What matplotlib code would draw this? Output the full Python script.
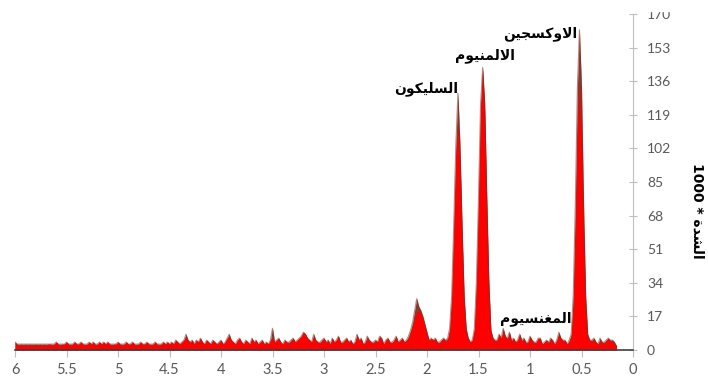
import numpy as np
import matplotlib
matplotlib.use('Agg')
import matplotlib.pyplot as plt
from matplotlib.patches import Rectangle

# energy channels (keV), 0.02 keV wide
energy = np.round(np.arange(0.16, 6.001, 0.02), 2)

# smoothed counts (x1000), drawn as the red area
counts = [
    2, 3, 5, 4, 6, 5, 3, 4, 5, 3,
    4, 6, 4, 5, 7, 23, 62, 111, 135, 111,
    62, 23, 7, 4, 3, 5, 4, 6, 8, 5,
    3, 4, 6, 3, 5, 4, 3, 5, 6, 4,
    3, 5, 7, 4, 3, 6, 4, 8, 5, 4,
    6, 4, 9, 5, 7, 10, 6, 8, 5, 4,
    6, 10, 33, 74, 121, 142, 121, 74, 33, 10,
    5, 4, 6, 10, 26, 60, 98, 115, 98, 60,
    26, 10, 5, 4, 6, 5, 3, 4, 6, 5,
    6, 5, 8, 12, 16, 19, 20, 19, 16, 12,
    9, 6, 5, 4, 6, 5, 4, 7, 5, 3,
    4, 6, 5, 3, 5, 7, 4, 5, 3, 4,
    5, 6, 4, 3, 6, 5, 7, 4, 3, 5,
    4, 6, 5, 3, 4, 7, 5, 4, 6, 3,
    5, 4, 6, 5, 3, 4, 5, 7, 4, 5,
    6, 8, 9, 7, 6, 5, 4, 6, 5, 3,
    4, 5, 3, 4, 6, 5, 4, 6, 5, 3,
    4, 3, 5, 4, 3, 5, 4, 6, 3, 4,
    5, 3, 4, 6, 5, 3, 4, 5, 7, 6,
    4, 3, 5, 4, 3, 4, 5, 3, 4, 5,
    3, 4, 6, 4, 5, 3, 5, 4, 5, 7,
    5, 4, 3, 4, 5, 3, 4, 3, 4, 3,
    4, 3, 2, 3, 4, 3, 2, 3, 4, 3,
    3, 4, 3, 2, 3, 4, 3, 3, 4, 3,
    2, 3, 4, 3, 3, 2, 3, 4, 3, 4,
    3, 4, 3, 2, 4, 3, 4, 3, 2, 3,
    4, 3, 3, 4, 3, 2, 3, 4, 3, 3,
    2, 3, 4, 3, 2, 3, 3, 2, 3, 2,
    3, 2, 3, 2, 2, 3, 2, 3, 2, 3,
    2, 3, 4,
]

# raw counts (x1000), dark trace
raw = [
    2, 4, 5, 5, 6, 5, 4, 4, 6, 3,
    4, 6, 5, 5, 8, 28, 74, 133, 162, 133,
    74, 28, 8, 5, 3, 5, 5, 6, 9, 5,
    3, 5, 6, 4, 5, 4, 3, 6, 6, 4,
    4, 5, 7, 4, 4, 6, 5, 8, 5, 4,
    6, 5, 9, 6, 7, 11, 6, 8, 5, 5,
    6, 10, 35, 78, 125, 143, 124, 77, 35, 11,
    5, 4, 6, 11, 28, 64, 104, 130, 104, 64,
    28, 11, 6, 5, 6, 5, 4, 4, 6, 5,
    6, 5, 9, 13, 17, 20, 22, 26, 20, 14,
    10, 7, 5, 4, 6, 5, 4, 7, 5, 4,
    4, 6, 5, 3, 6, 7, 4, 5, 4, 4,
    5, 7, 4, 3, 6, 5, 8, 4, 3, 5,
    4, 6, 5, 4, 4, 7, 5, 4, 6, 3,
    5, 4, 6, 5, 4, 4, 5, 8, 4, 5,
    6, 8, 9, 7, 6, 5, 4, 6, 5, 4,
    4, 5, 3, 4, 6, 5, 4, 11, 5, 3,
    4, 3, 5, 4, 3, 5, 4, 6, 3, 4,
    5, 3, 4, 6, 5, 3, 4, 5, 8, 6,
    4, 3, 5, 4, 3, 4, 5, 3, 4, 5,
    3, 4, 6, 4, 5, 3, 5, 4, 5, 8,
    5, 4, 3, 4, 5, 3, 4, 3, 4, 3,
    4, 3, 3, 3, 4, 3, 3, 3, 4, 3,
    3, 4, 3, 3, 3, 4, 3, 3, 4, 3,
    3, 3, 4, 3, 3, 3, 3, 4, 3, 4,
    3, 4, 3, 3, 4, 3, 4, 3, 3, 3,
    4, 3, 3, 4, 3, 3, 3, 4, 3, 3,
    3, 3, 4, 3, 3, 3, 3, 3, 3, 3,
    3, 3, 3, 3, 3, 3, 3, 3, 3, 3,
    3, 3, 4,
]

peak_names = ['السليكون', 'الالمنيوم', 'الاوكسجين', 'المغنسيوم']
peak_label_x = [2.01, 1.44, 0.90, 0.94]
peak_label_y = [132, 149, 160, 16]

x_ticks = [6, 5.5, 5, 4.5, 4, 3.5, 3, 2.5, 2, 1.5, 1, 0.5, 0]
y_ticks = list(range(0, 171, 17))
y_title = 'الشدة'

# Arabic glyph forms: isolated, final, initial, medial
FORMS = {
    'ا': ('\ufe8d', '\ufe8e', None, None),
    'لا': ('\ufefb', '\ufefc', None, None),
    'ل': ('\ufedd', '\ufede', '\ufedf', '\ufee0'),
    'س': ('\ufeb1', '\ufeb2', '\ufeb3', '\ufeb4'),
    'ي': ('\ufef1', '\ufef2', '\ufef3', '\ufef4'),
    'ك': ('\ufed9', '\ufeda', '\ufedb', '\ufedc'),
    'و': ('\ufeed', '\ufeee', None, None),
    'ن': ('\ufee5', '\ufee6', '\ufee7', '\ufee8'),
    'م': ('\ufee1', '\ufee2', '\ufee3', '\ufee4'),
    'غ': ('\ufecd', '\ufece', '\ufecf', '\ufed0'),
    'ج': ('\ufe9d', '\ufe9e', '\ufe9f', '\ufea0'),
    'ش': ('\ufeb5', '\ufeb6', '\ufeb7', '\ufeb8'),
    'د': ('\ufea9', '\ufeaa', None, None),
    'ة': ('\ufe93', '\ufe94', None, None),
}


def shape(word):
    # join letters and return them in visual (left to right) order
    chars = []
    i = 0
    while i < len(word):
        if word[i] == 'ل' and i + 1 < len(word) and word[i + 1] == 'ا':
            chars.append('لا')
            i += 2
        else:
            chars.append(word[i])
            i += 1
    out = []
    for k, c in enumerate(chars):
        f = FORMS[c]
        prev = chars[k - 1] if k > 0 else None
        nxt = chars[k + 1] if k + 1 < len(chars) else None
        join_prev = prev is not None and FORMS[prev][2] is not None
        join_next = nxt is not None and f[2] is not None
        if join_prev and join_next:
            out.append(f[3])
        elif join_prev:
            out.append(f[1])
        elif join_next:
            out.append(f[2])
        else:
            out.append(f[0])
    return ''.join(reversed(out))


gray = '#595959'
fig = plt.figure(figsize=(7.08, 3.81), dpi=100)
ax = fig.add_axes([15 / 708, 31 / 381, 618 / 708, 336 / 381])

ax.fill_between(energy, raw, color='#8a3a2e', lw=0)
ax.fill_between(energy, counts, color='#ff0000', lw=0)
ax.plot(energy, raw, color='#7a2e24', lw=0.8, alpha=0.55)

for name, lx, ly in zip(peak_names, peak_label_x, peak_label_y):
    ax.text(lx, ly, shape(name), ha='center', va='center', fontsize=10,
            fontweight='bold', family='DejaVu Sans', color='black')

ax.set_xlim(6, 0)
ax.set_ylim(0, 170)
ax.set_xticks(x_ticks)
ax.set_xticklabels(['%g' % t for t in x_ticks])
ax.set_yticks(y_ticks)

for s in ['left', 'top']:
    ax.spines[s].set_visible(False)
ax.spines['right'].set_color('#bfbfbf')
ax.spines['bottom'].set_color('#404040')
ax.spines['bottom'].set_linewidth(1.2)

ax.yaxis.tick_right()
ax.tick_params(axis='y', direction='inout', length=6, width=0.8,
               color='#bfbfbf', labelcolor=gray, labelsize=10, pad=7)
ax.tick_params(axis='x', direction='out', length=5, width=0.8,
               color='#bfbfbf', labelcolor=gray, labelsize=10.5, pad=4)
for lab in ax.get_xticklabels() + ax.get_yticklabels():
    lab.set_family('Lato')

fig.text(697 / 708, 1 - 211 / 381, '1000 * ' + shape(y_title), rotation=-90,
         ha='center', va='center', fontsize=10, fontweight='bold',
         family='DejaVu Sans')

# top strip left blank
fig.patches.append(Rectangle((0, 1 - 11 / 381), 1, 11 / 381,
                             transform=fig.transFigure, color='white',
                             zorder=10))

fig.savefig('out.png', dpi=100)
